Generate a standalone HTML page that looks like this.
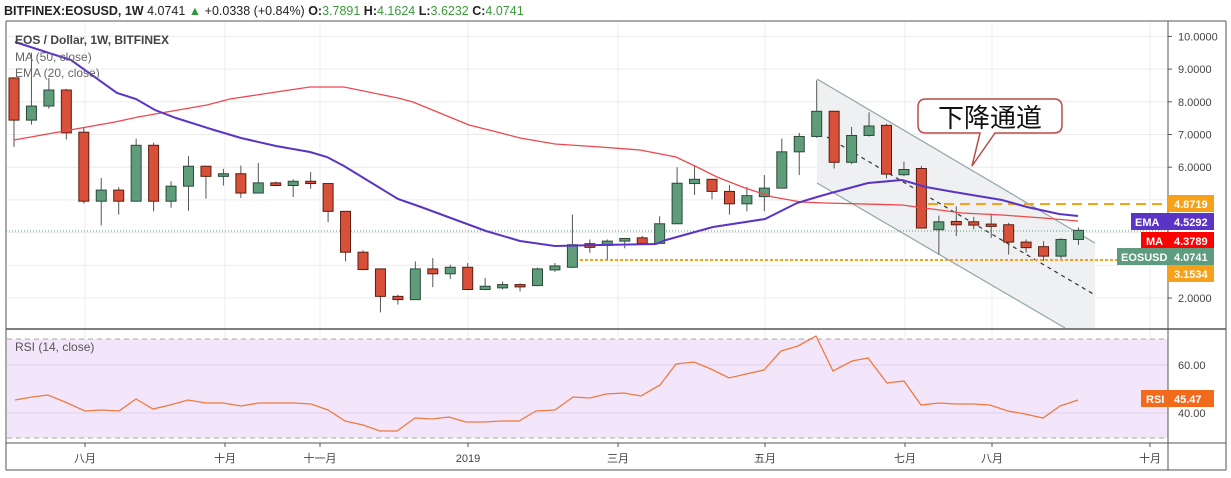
<!DOCTYPE html>
<html><head><meta charset="utf-8"><style>
html,body{margin:0;padding:0;background:#fff;width:1231px;height:478px;overflow:hidden}
svg{display:block;font-family:"Liberation Sans","Noto Sans CJK SC",sans-serif}
</style></head><body>
<svg id="s" width="1231" height="478" viewBox="0 0 1231 478" xmlns="http://www.w3.org/2000/svg">
<rect x="0" y="0" width="1231" height="478" fill="#fff"/>
<text x="4" y="15" font-size="12.5" font-weight="bold" fill="#222">BITFINEX:EOSUSD, 1W <tspan font-weight="normal">4.0741</tspan> <tspan fill="#2e9a3c" font-weight="normal">▲</tspan><tspan font-weight="normal"> +0.0338 (+0.84%) </tspan>O:<tspan fill="#3a9a3a" font-weight="normal">3.7891</tspan> H:<tspan fill="#3a9a3a" font-weight="normal">4.1624</tspan> L:<tspan fill="#3a9a3a" font-weight="normal">3.6232</tspan> C:<tspan fill="#3a9a3a" font-weight="normal">4.0741</tspan></text>
<g id="grid"></g>
<rect x="7" y="339" width="1161" height="99" fill="#f3e6fb"/>
<line x1="7" y1="339" x2="1168" y2="339" stroke="#aaa" stroke-dasharray="5,4"/>
<line x1="7" y1="438" x2="1168" y2="438" stroke="#aaa" stroke-dasharray="5,4"/>
<line x1="7" y1="365" x2="1168" y2="365" stroke="#ddd0ea"/>
<line x1="7" y1="413" x2="1168" y2="413" stroke="#ddd0ea"/>
<polygon points="817,79 1095,243 1095,328 1065,328 817,183" fill="#eef0f2"/>
<line x1="817" y1="79" x2="1095" y2="243" stroke="#8fa6a6" stroke-width="1.2"/>
<line x1="817" y1="183" x2="1065" y2="328" stroke="#8fa6a6" stroke-width="1.2"/>
<line x1="827" y1="137" x2="1095" y2="295" stroke="#333" stroke-width="1.2" stroke-dasharray="4,4"/>
<line x1="6" y1="231" x2="1168" y2="231" stroke="#5a9a7a" stroke-width="1" stroke-dasharray="1,2"/>
<line x1="575" y1="260" x2="1168" y2="260" stroke="#f7a11a" stroke-width="2" stroke-dasharray="3,2"/>
<line x1="928" y1="204" x2="1168" y2="204" stroke="#f7a11a" stroke-width="2" stroke-dasharray="10,6"/>
<g id="candles"></g>
<polyline id="ma" fill="none" stroke="#f0474f" stroke-width="1.3"/>
<polyline id="ema" fill="none" stroke="#5b34c6" stroke-width="2"/>
<polyline id="rsi" fill="none" stroke="#f07a3e" stroke-width="1.3"/>
<text x="15" y="44" font-size="12" font-weight="bold" fill="#444">EOS / Dollar, 1W, BITFINEX</text>
<text x="15" y="61" font-size="12" fill="#666">MA (50, close)</text>
<text x="15" y="77" font-size="12" fill="#666">EMA (20, close)</text>
<text x="15" y="351" font-size="12" fill="#555">RSI (14, close)</text>
<path d="M926,99 H1054 Q1062,99 1062,107 V125 Q1062,133 1054,133 H995 L972,166 L980,133 H926 Q918,133 918,125 V107 Q918,99 926,99 Z" fill="#fff" stroke="#b84a48" stroke-width="1.5"/>
<text x="990" y="127" font-size="26" text-anchor="middle" fill="#111" font-family="'Noto Sans CJK SC',sans-serif">下降通道</text>
<line x1="6" y1="21" x2="1226" y2="21" stroke="#555"/>
<line x1="6" y1="21" x2="6" y2="470" stroke="#555"/>
<line x1="1226" y1="21" x2="1226" y2="470" stroke="#555"/>
<line x1="6" y1="470" x2="1226" y2="470" stroke="#555"/>
<line x1="1168" y1="21" x2="1168" y2="470" stroke="#555"/>
<line x1="6" y1="329" x2="1226" y2="329" stroke="#555" stroke-width="1.5"/>
<line x1="6" y1="443" x2="1226" y2="443" stroke="#555"/>
<g id="axis" font-size="11" fill="#444"></g>
<g font-size="11" font-weight="bold" fill="#fff">
<rect x="1168" y="195" width="46" height="17" fill="#f7a11a"/><text x="1174" y="208">4.8719</text>
<rect x="1131" y="213" width="37" height="17" fill="#5b34c6"/><text x="1135" y="226">EMA</text>
<rect x="1168" y="213" width="46" height="17" fill="#5b34c6"/><text x="1174" y="226">4.5292</text>
<rect x="1141" y="232" width="27" height="17" fill="#f00"/><text x="1146" y="245">MA</text>
<rect x="1168" y="232" width="46" height="17" fill="#f00"/><text x="1174" y="245">4.3789</text>
<rect x="1117" y="248" width="51" height="17" fill="#5e9c80"/><text x="1121" y="261">EOSUSD</text>
<rect x="1168" y="248" width="46" height="17" fill="#5e9c80"/><text x="1174" y="261">4.0741</text>
<rect x="1168" y="265" width="46" height="17" fill="#f7a11a"/><text x="1174" y="278">3.1534</text>
<rect x="1141" y="390" width="27" height="17" fill="#f26b1d"/><text x="1146" y="403">RSI</text>
<rect x="1168" y="390" width="46" height="17" fill="#f26b1d"/><text x="1174" y="403">45.47</text>
</g>
</svg>
<script>
var NS="http://www.w3.org/2000/svg";
function el(p,t,a,txt){var e=document.createElementNS(NS,t);for(var k in a)e.setAttribute(k,a[k]);if(txt)e.textContent=txt;document.getElementById(p).appendChild(e);return e;}
function Y(v){return 298-(v-2)*32.7;}
var g="grid";
for(var v=2;v<=10;v++){el(g,"line",{x1:7,x2:1168,y1:Y(v),y2:Y(v),stroke:"#ececec"});
 if(v<3||v>5){el("axis","text",{x:1178,y:Y(v)+4},v.toFixed(4));}
 el("axis","line",{x1:1168,x2:1172,y1:Y(v),y2:Y(v),stroke:"#555"});}
var months=[[85,"八月"],[225,"十月"],[320,"十一月"],[468,"2019"],[618,"三月"],[765,"五月"],[905,"七月"],[992,"八月"],[1150,"十月"]];
months.forEach(function(m){el(g,"line",{x1:m[0],x2:m[0],y1:22,y2:442,stroke:"#ececec"});
 el("axis","text",{x:m[0],y:462,"text-anchor":"middle"},m[1]);el("axis","line",{x1:m[0],x2:m[0],y1:443,y2:447,stroke:"#555"});});
el("axis","text",{x:1178,y:369},"60.00");el("axis","text",{x:1178,y:417},"40.00");
var D=[[8.73,8.75,6.62,7.44],[7.44,9.5,7.3,7.87],[7.87,8.73,7.79,8.36],[8.36,8.4,6.85,7.05],[7.07,7.2,4.89,4.96],[4.96,5.67,4.22,5.30],[5.30,5.39,4.55,4.96],[4.96,6.87,4.96,6.67],[6.67,6.75,4.65,4.96],[4.96,5.57,4.76,5.42],[5.42,6.34,4.67,6.03],[6.03,6.05,5.04,5.72],[5.72,5.95,5.44,5.80],[5.80,6.05,5.06,5.21],[5.21,6.13,5.21,5.52],[5.52,5.56,5.42,5.44],[5.44,5.63,5.09,5.57],[5.57,5.85,5.34,5.50],[5.50,5.50,4.32,4.65],[4.65,4.65,3.12,3.40],[3.40,3.46,2.85,2.87],[2.89,2.89,1.56,2.05],[2.05,2.1,1.80,1.95],[1.95,3.12,1.95,2.89],[2.89,3.22,2.33,2.74],[2.74,3.02,2.58,2.94],[2.94,3.07,2.24,2.26],[2.26,2.61,2.24,2.36],[2.34,2.50,2.26,2.38],[2.38,2.45,2.2,2.37],[2.38,2.93,2.36,2.89],[2.89,3.07,2.80,2.95],[2.94,4.55,2.92,3.63],[3.63,3.79,3.38,3.58],[3.61,3.79,3.18,3.74],[3.77,3.82,3.52,3.79],[3.84,3.9,3.67,3.67],[3.67,4.50,3.67,4.27],[4.27,6.0,4.27,5.51],[5.50,6.06,5.15,5.63],[5.63,5.63,5.02,5.26],[5.26,5.46,4.55,4.88],[4.88,5.4,4.65,5.13],[5.10,5.76,4.65,5.36],[5.36,6.87,5.36,6.47],[6.47,7.05,5.76,6.94],[6.94,8.66,6.90,7.71],[7.71,7.71,5.96,6.15],[6.15,7.23,6.10,6.97],[6.97,7.68,6.94,7.26],[7.28,7.33,5.66,5.79],[5.77,6.17,5.73,5.93],[5.96,6.04,4.14,4.14],[4.09,4.52,3.33,4.33],[4.31,4.8,3.89,4.27],[4.30,4.48,4.1,4.26],[4.26,4.58,3.84,4.19],[4.24,4.3,3.33,3.71],[3.71,3.79,3.39,3.54],[3.57,3.74,3.13,3.28],[3.28,3.83,3.2,3.79],[3.79,4.16,3.62,4.07]];
D.forEach(function(d,i){var x=14+i*17.45,up=d[3]>=d[0];var col=up?"#5e9c7a":"#d9503a",bd=up?"#2c4a3a":"#5a1e12";
 el("candles","line",{x1:x,x2:x,y1:Y(d[1]),y2:Y(d[2]),stroke:"#555","stroke-width":1});
 var t=Y(Math.max(d[0],d[3])),b=Y(Math.min(d[0],d[3]));if(b-t<2){t-=1;b+=1;}
 el("candles","rect",{x:x-5,y:t,width:10,height:b-t,fill:col,stroke:bd,"stroke-width":1});});
document.getElementById("ema").setAttribute("points","15,42 71,60 117,93 136,99 155,110 176,118 214,130 241,138 276,146 310,152 327,157 344,166 398,199 421,207 486,231 520,241 555,246 600,245 656,244 666,240 713,227 765,219 797,203 817,197 831,193 868,183 902,180 926,187 954,192 1002,200 1027,207 1059,214 1078,216");
document.getElementById("ma").setAttribute("points","14,140 115,122 138,117 207,105 230,99 276,92 310,87 344,87 398,98 413,102 469,125 497,132 520,138 555,144 600,147 640,150 676,157 697,167 717,177 745,188 773,197 801,202 825,203 902,205 962,213 1002,215 1043,218 1078,221");
document.getElementById("rsi").setAttribute("points","15,400 32,397 48,395 65,402 85,411 102,410 119,411 136,399 153,409 170,405 188,400 206,403 223,403 241,406 259,403 277,403 294,403 311,404 328,410 345,421 363,425 380,431 397,431 415,418 432,419 449,417 466,422 484,422 502,421 519,421 536,411 555,410 573,397 590,398 606,394 624,393 641,396 660,385 676,364 694,362 711,369 729,378 746,374 764,370 781,351 798,346 816,336 833,371 852,361 868,358 887,383 904,381 921,405 939,403 956,404 973,404 990,405 1008,411 1025,414 1043,418 1060,406 1078,400");
</script>
</body></html>
